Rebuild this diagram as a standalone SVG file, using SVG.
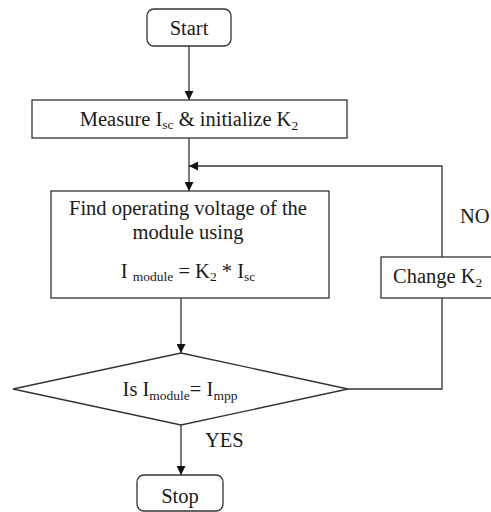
<svg xmlns="http://www.w3.org/2000/svg" width="491" height="512" viewBox="0 0 491 512">
<style>
text{font-family:"Liberation Serif","Times New Roman",serif;font-size:20.5px;fill:#1a1a1a}
.sub{font-size:13.5px}
.box{fill:#fff;stroke:#333;stroke-width:1.3}
.ln{fill:none;stroke:#333;stroke-width:1.3}
</style>
<defs>
<marker id="ah" viewBox="0 0 10 10" refX="10" refY="5" markerWidth="9" markerHeight="9" markerUnits="userSpaceOnUse" orient="auto">
<path d="M0,0 L10,5 L0,10 z" fill="#111"/>
</marker>
</defs>
<g id="connectors">
<line class="ln" x1="189" y1="46" x2="189" y2="100" marker-end="url(#ah)"/>
<line class="ln" x1="189" y1="138" x2="189" y2="191" marker-end="url(#ah)"/>
<polyline class="ln" points="348,389 442,389 442,298"/>
<polyline class="ln" points="442,257 442,166 189,166" marker-end="url(#ah)"/>
<line class="ln" x1="181" y1="298" x2="181" y2="353" marker-end="url(#ah)"/>
<line class="ln" x1="181" y1="425" x2="181" y2="475" marker-end="url(#ah)"/>
<text x="460" y="223">NO</text>
<text x="205" y="447">YES</text>
</g>
<g id="start">
<rect class="box" x="147" y="9" width="84" height="37" rx="7"/>
<text x="189" y="35" text-anchor="middle">Start</text>
</g>
<g id="measure">
<rect class="box" x="32" y="100" width="315" height="38"/>
<text x="189" y="126" text-anchor="middle">Measure I<tspan class="sub" dy="3">sc</tspan><tspan dy="-3"> &amp; initialize K</tspan><tspan class="sub" dy="4">2</tspan></text>
</g>
<g id="find">
<rect class="box" x="51" y="191" width="278" height="107"/>
<text x="188" y="215" text-anchor="middle">Find operating voltage of the</text>
<text x="188" y="239" text-anchor="middle">module using</text>
<text x="188" y="278" text-anchor="middle">I <tspan class="sub" dy="3">module</tspan><tspan dy="-3">  = K</tspan><tspan class="sub" dy="3">2</tspan><tspan dy="-3"> * I</tspan><tspan class="sub" dy="3">sc</tspan></text>
</g>
<g id="decision">
<polygon class="box" points="181,353 348,389 181,425 13,389"/>
<text x="180" y="396" text-anchor="middle">Is I<tspan class="sub" dy="4">module</tspan><tspan dy="-4">= I</tspan><tspan class="sub" dy="4">mpp</tspan></text>
</g>
<g id="change">
<rect class="box" x="381" y="257" width="115" height="41"/>
<text x="393" y="283">Change K<tspan class="sub" dy="4">2</tspan></text>
</g>
<g id="stop">
<rect class="box" x="137" y="475" width="86" height="36" rx="7"/>
<text x="180" y="503" text-anchor="middle">Stop</text>
</g>
</svg>
